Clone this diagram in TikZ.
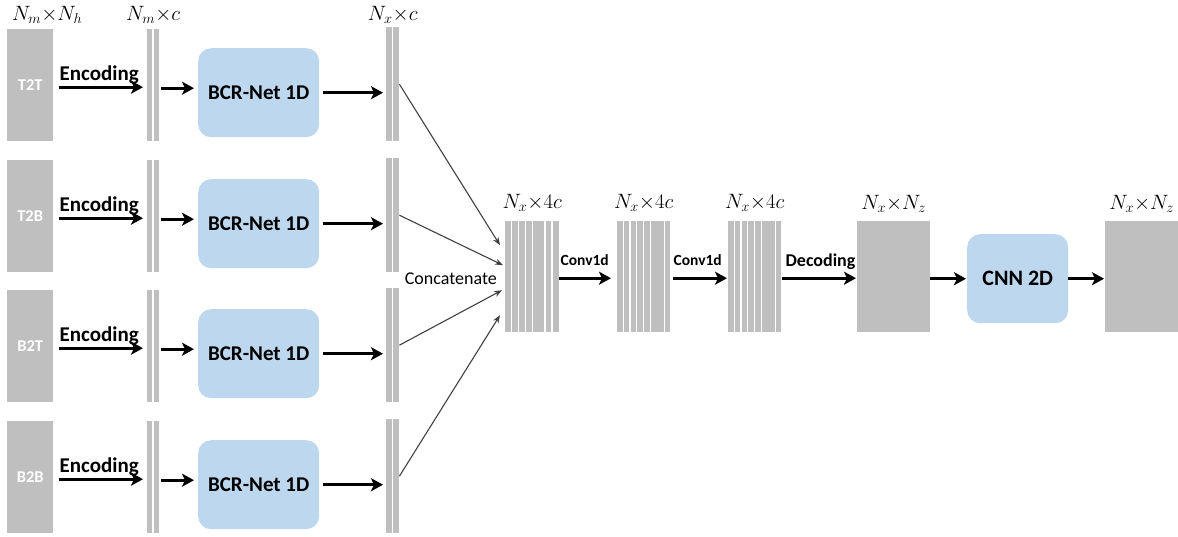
\documentclass[tikz,border=0pt]{standalone}
\usepackage{fontspec}
\setmainfont{Carlito}
\usetikzlibrary{arrows.meta}
\definecolor{gbar}{HTML}{BFBFBF}
\definecolor{nnblue}{HTML}{BDD7EE}
\tikzset{
  blk/.style={fill=gbar, draw=none, inner sep=0pt, anchor=north west},
  nnbox/.style={fill=nnblue, draw=none, rounded corners=13pt, inner sep=0pt, anchor=north west, font=\bfseries\fontsize{21}{25}\selectfont},
  big/.style={line width=2.6pt, -{Stealth[length=12pt,width=13pt,inset=3pt]}},
  thinarr/.style={line width=1.1pt, draw=black!75, -{Stealth[length=8pt,width=6pt]}},
  sep/.style={draw=white, line width=1.5pt},
  lab/.style={font=\fontsize{20.5}{24}\selectfont, inner sep=0pt},
  elab/.style={font=\bfseries\fontsize{21}{25}\selectfont, inner sep=0pt, anchor=base west},
  clab/.style={font=\bfseries\fontsize{15.5}{18}\selectfont, inner sep=0pt, anchor=base west},
}
\begin{document}
\begin{tikzpicture}[x=1pt,y=-1pt]
\useasboundingbox (0,0) rectangle (1178,536);
\foreach \i/\t/\lab in {1/29/T2T,2/160/T2B,3/290/B2T,4/421/B2B}{
  \node[blk, minimum width=46pt, minimum height=112pt, text=white, font=\bfseries\fontsize{16.5}{19}\selectfont] (in\i) at (7,\t) {\lab};
  \node[blk, minimum width=12pt, minimum height=112pt] (a\i) at (147,\t) {};
  \draw[sep] (a\i.north) -- (a\i.south);
  \node[nnbox, minimum width=121pt, minimum height=89pt] (bcr\i) at (198,\t+19) {BCR-Net 1D};
  \node[blk, minimum width=13pt, minimum height=114pt] (b\i) at (386,\t-2) {};
  \draw[sep] (b\i.north) -- (b\i.south);
  \draw[big] ([shift={(6pt,-2pt)}]in\i.east) -- ([shift={(-4pt,-2pt)}]a\i.west);
  \node[elab] (enc\i) at ([shift={(6pt,5pt)}]in\i.east) {Encoding};
  \draw[big] ([shift={(2pt,-3pt)}]a\i.east) -- ([shift={(-4pt,-3pt)}]bcr\i.west |- a\i.east);
  \draw[big] ([xshift=4pt]bcr\i.east) -- ([xshift=-3pt]b\i.west |- bcr\i.east);
}
% top labels
\node[lab, anchor=base west] (l1) at (12,20) {$N_m{\times}N_h$};
\node[lab, anchor=base] (l2) at ([yshift=9pt]a1.north) {$N_m{\times}c$};
\node[lab, anchor=base] (l3) at ([yshift=7pt]b1.north) {$N_x{\times}c$};
% concatenated blocks
\node[blk, minimum width=54pt, minimum height=111pt] (cat) at (505,221) {};
\foreach \d in {6.7,13.7,20.7,27.7,40,47}{\draw[sep] ([xshift=\d pt]cat.north west) -- ([xshift=\d pt]cat.south west);}
\node[blk, minimum width=53pt, minimum height=111pt] (c2) at (617,221) {};
\foreach \d in {6.7,13,19.7,26.3,33.7,47.3}{\draw[sep] ([xshift=\d pt]c2.north west) -- ([xshift=\d pt]c2.south west);}
\node[blk, minimum width=53pt, minimum height=111pt] (c3) at (728,221) {};
\foreach \d in {6.7,13,19.7,26.3,33.7,47.3}{\draw[sep] ([xshift=\d pt]c3.north west) -- ([xshift=\d pt]c3.south west);}
\node[blk, minimum width=73pt, minimum height=111pt] (dec) at (857,221) {};
\node[nnbox, minimum width=101pt, minimum height=89pt, font=\bfseries\fontsize{22}{26}\selectfont] (cnn) at (967,234) {CNN 2D};
\node[blk, minimum width=73pt, minimum height=111pt] (out) at (1105,221) {};
\foreach \n in {cat,c2,c3}{\node[lab, anchor=base] at ([yshift=13pt]\n.north) {$N_x{\times}4c$};}
\foreach \n in {dec,out}{\node[lab, anchor=base] at ([yshift=12pt]\n.north) {$N_x{\times}N_z$};}
% thin arrows
\draw[thinarr] (b1.east) -- ([shift={(-5pt,31.5pt)}]cat.west);
\draw[thinarr] (b2.east) -- ([shift={(-2pt,11.5pt)}]cat.west);
\draw[thinarr] (b3.east) -- ([shift={(-3pt,-13.5pt)}]cat.west);
\draw[thinarr] (b4.east) -- ([shift={(-5pt,-38.5pt)}]cat.west);
\node[font=\fontsize{18}{22}\selectfont, inner sep=0pt, anchor=east] (conc) at ([shift={(-8pt,-2pt)}]cat.west) {Concatenate};
% right-hand arrows
\draw[big] ([yshift=-1.5pt]cat.east) -- ([shift={(-6pt,-1.5pt)}]c2.west);
\node[clab] at ([shift={(1pt,11.5pt)}]cat.east) {Conv1d};
\draw[big] ([shift={(3pt,-1.5pt)}]c2.east) -- ([shift={(-1pt,-1.5pt)}]c3.west);
\node[clab] at ([shift={(3pt,11.5pt)}]c2.east) {Conv1d};
\draw[big] ([shift={(1pt,-1.5pt)}]c3.east) -- ([shift={(-1pt,-1.5pt)}]dec.west);
\node[font=\bfseries\fontsize{18}{22}\selectfont, inner sep=0pt, anchor=base west] at ([shift={(4pt,10.5pt)}]c3.east) {Decoding};
\draw[big] (dec.east |- cnn.west) -- ([xshift=-1pt]cnn.west);
\draw[big] (cnn.east) -- ([xshift=-1pt]out.west |- cnn.east);
\end{tikzpicture}
\end{document}
